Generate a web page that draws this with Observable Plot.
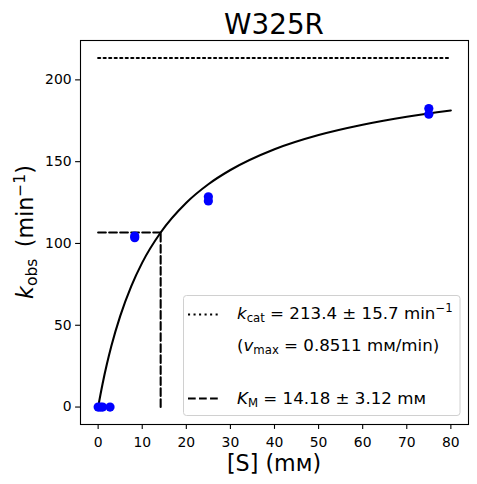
<!DOCTYPE html>
<html>
<head>
<meta charset="utf-8">
<script src="https://cdn.jsdelivr.net/npm/d3@7"></script>
<script src="https://cdn.jsdelivr.net/npm/@observablehq/plot@0.6"></script>
<style>
  html, body { margin: 0; padding: 0; background: #fff; }
  svg { display: block; font-family: "DejaVu Sans", sans-serif; }
</style>
</head>
<body>
<div id="chart"></div>
<script>
// Observed data
const substrate = [0, 0.5, 1, 2.7, 8.3, 8.3, 25, 25, 75, 75];
const kobs      = [0, 0, 0, 0, 103.5, 104.5, 126, 128.5, 179, 182.5];

// Fitted Michaelis–Menten curve
const fitS    = [0, 1, 2, 3, 5, 7.5, 10, 14.18, 20, 25, 30, 40, 50, 60, 70, 80];
const fitKobs = [0, 14.1, 26.4, 37.3, 55.6, 73.8, 88.3, 106.7, 124.9, 136.2, 144.9, 157.6, 166.3, 172.6, 177.5, 181.3];

// Fit parameters
const kcat = 213.4;
const KM = 14.18;
const halfKcat = 106.7;

const xTicks = [0, 10, 20, 30, 40, 50, 60, 70, 80];
const yTicks = [0, 50, 100, 150, 200];

const points = substrate.map((s, i) => ({s, k: kobs[i]}));
const fit = fitS.map((s, i) => ({s, k: fitKobs[i]}));
const kcatLine = [{s: 0, k: kcat}, {s: 80, k: kcat}];
const kmH = [{s: 0, k: halfKcat}, {s: KM, k: halfKcat}];
const kmV = [{s: KM, k: 0}, {s: KM, k: halfKcat}];

const lw = 2.08;
const plot = Plot.plot({
  width: 477,
  height: 484,
  marginLeft: 80,
  marginRight: 9,
  marginTop: 40,
  marginBottom: 60,
  style: {fontFamily: "DejaVu Sans, sans-serif", fontSize: "13.9px", color: "#000", background: "#fff"},
  x: {domain: [-4, 84]},
  y: {domain: [-10.67, 224.07]},
  marks: [
    Plot.axisX({ticks: xTicks, tickSize: 4.9, tickPadding: 7.5, label: null, fontSize: 13.9, stroke: "#000", strokeWidth: 1.1}),
    Plot.axisY({ticks: yTicks, tickSize: 4.9, tickPadding: 4, label: null, fontSize: 13.9, stroke: "#000", strokeWidth: 1.1}),
    Plot.line(kcatLine, {x: "s", y: "k", stroke: "#000", strokeWidth: lw, strokeDasharray: "2.08,3.44"}),
    Plot.line(kmH, {x: "s", y: "k", stroke: "#000", strokeWidth: lw, strokeDasharray: "7.7,3.33"}),
    Plot.line(kmV, {x: "s", y: "k", stroke: "#000", strokeWidth: lw, strokeDasharray: "7.7,3.33"}),
    Plot.line(fit, {x: "s", y: "k", stroke: "#000", strokeWidth: lw, curve: "monotone-x"}),
    Plot.dot(points, {x: "s", y: "k", r: 4.6, fill: "blue", stroke: "none"}),
    Plot.frame({stroke: "#000", strokeWidth: 1.1})
  ]
});

const svg = d3.select(plot);
const font = "DejaVu Sans, sans-serif";

// Title
svg.append("text")
  .attr("x", 274).attr("y", 33.5)
  .attr("text-anchor", "middle")
  .attr("font-family", font).attr("font-size", 27.8).attr("fill", "#000")
  .text("W325R");

// X label
svg.append("text")
  .attr("x", 274).attr("y", 471)
  .attr("text-anchor", "middle")
  .attr("font-family", font).attr("font-size", 22.2).attr("fill", "#000")
  .text("[S] (mᴍ)");

// Y label
const yl = svg.append("text")
  .attr("transform", "translate(33,232) rotate(-90)")
  .attr("text-anchor", "middle")
  .attr("font-family", font).attr("font-size", 22.2).attr("fill", "#000");
yl.append("tspan").attr("font-style", "italic").text("k");
yl.append("tspan").attr("font-size", 15.5).attr("dy", 4).text("obs");
yl.append("tspan").attr("dy", -4).text("\u2009 (min");
yl.append("tspan").attr("font-size", 15.5).attr("dy", -8).text("\u22121");
yl.append("tspan").attr("dy", 8).text(")");

// Legend
const lg = svg.append("g").attr("text-anchor", "start");
lg.append("rect")
  .attr("x", 183.5).attr("y", 295.5).attr("width", 276.5).attr("height", 120)
  .attr("rx", 3).attr("fill", "#fff").attr("fill-opacity", 0.8)
  .attr("stroke", "#d0d0d0").attr("stroke-width", 1);
lg.append("line").attr("x1", 188).attr("x2", 221).attr("y1", 314.5).attr("y2", 314.5)
  .attr("stroke", "#000").attr("stroke-width", lw).attr("stroke-dasharray", "2.08,3.44");
lg.append("line").attr("x1", 188).attr("x2", 221).attr("y1", 398.5).attr("y2", 398.5)
  .attr("stroke", "#000").attr("stroke-width", lw).attr("stroke-dasharray", "7.7,3.33");

const fs = 16.67, sfs = 11.7;
const t1 = lg.append("text").attr("x", 237).attr("y", 319).attr("text-anchor", "start").attr("font-family", font).attr("font-size", fs).attr("fill", "#000");
t1.append("tspan").attr("font-style", "italic").text("k");
t1.append("tspan").attr("font-size", sfs).attr("dy", 3).text("cat");
t1.append("tspan").attr("dy", -3).text(` = ${kcat} ± 15.7 min`);
t1.append("tspan").attr("font-size", sfs).attr("dy", -7).text("\u22121");

const t2 = lg.append("text").attr("x", 237).attr("y", 351).attr("text-anchor", "start").attr("font-family", font).attr("font-size", fs).attr("fill", "#000");
t2.append("tspan").text("(");
t2.append("tspan").attr("font-style", "italic").text("v");
t2.append("tspan").attr("font-size", sfs).attr("dy", 3).text("max");
t2.append("tspan").attr("dy", -3).text(" = 0.8511 mᴍ/min)");

const t3 = lg.append("text").attr("x", 237).attr("y", 404).attr("text-anchor", "start").attr("font-family", font).attr("font-size", fs).attr("fill", "#000");
t3.append("tspan").attr("font-style", "italic").text("K");
t3.append("tspan").attr("font-size", sfs).attr("dy", 3).text("M");
t3.append("tspan").attr("dy", -3).text(` = ${KM} ± 3.12 mᴍ`);

document.getElementById("chart").appendChild(plot);
</script>
</body>
</html>
